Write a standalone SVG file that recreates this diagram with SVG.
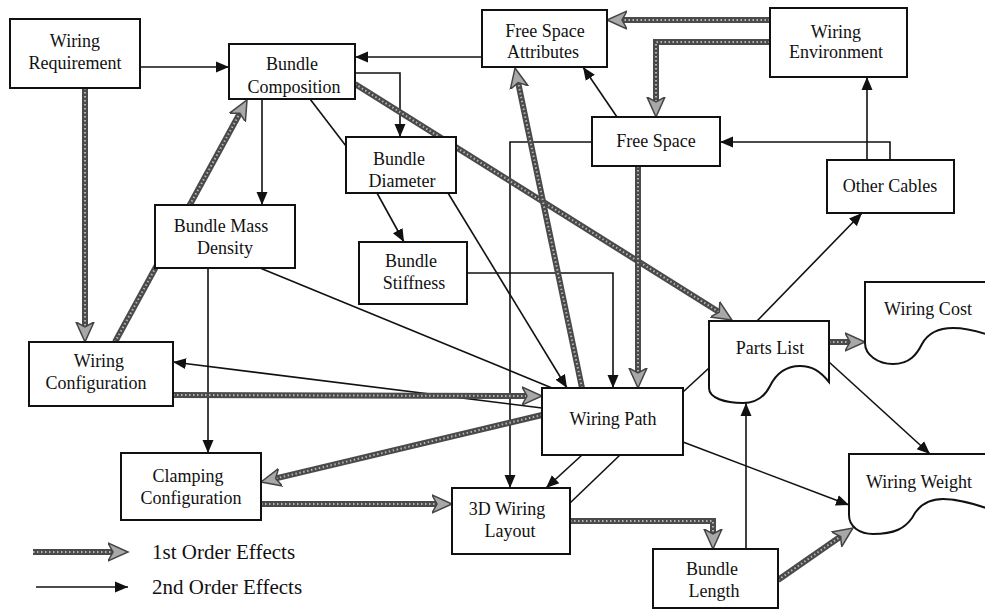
<svg xmlns="http://www.w3.org/2000/svg" width="985" height="610" viewBox="0 0 985 610">
<style>
.box{fill:#fff;stroke:#111;stroke-width:2}
.lbl{font-family:"Liberation Serif","Times New Roman",serif;font-size:18px;fill:#111;text-anchor:middle}
.leg{font-family:"Liberation Serif","Times New Roman",serif;font-size:21px;fill:#111}
.c2{fill:none;stroke:#111;stroke-width:1.6}
.c1{fill:none;stroke:#4a4a4a;stroke-width:6}
.c1d{fill:none;stroke:#b5b5b5;stroke-width:2;stroke-dasharray:1.5 2.5}
</style>
<defs>
<marker id="a2" markerUnits="userSpaceOnUse" markerWidth="14" markerHeight="12" refX="13" refY="6" orient="auto"><path d="M0,0.5 L13,6 L0,11.5 z" fill="#111"/></marker>
<marker id="a1" markerUnits="userSpaceOnUse" markerWidth="22" markerHeight="20" refX="8" refY="10" orient="auto"><path d="M0,1 L20,10 L0,19 L5,10 z" fill="#a8a8a8" stroke="#444" stroke-width="1.5"/></marker>
</defs>
<rect width="985" height="610" fill="#fff"/>
<g id="connectors">
<!-- 2nd order -->
<path class="c2" d="M140,67 H229" marker-end="url(#a2)"/>
<path class="c2" d="M482,57 H355" marker-end="url(#a2)"/>
<path class="c2" d="M355,73 H400 V137" marker-end="url(#a2)"/>
<path class="c2" d="M262,99 V205" marker-end="url(#a2)"/>
<path class="c2" d="M310,99 L346,146"/>
<path class="c2" d="M377,193 L404,242" marker-end="url(#a2)"/>
<path class="c2" d="M448,193 L567,388" marker-end="url(#a2)"/>
<path class="c2" d="M467,273 H613 V388" marker-end="url(#a2)"/>
<path class="c2" d="M260,268 L552,388"/>
<path class="c2" d="M208,268 V453" marker-end="url(#a2)"/>
<path class="c2" d="M542,408 L173,362" marker-end="url(#a2)"/>
<path class="c2" d="M617,117 L583,67" marker-end="url(#a2)"/>
<path class="c2" d="M867,160 V77" marker-end="url(#a2)"/>
<path class="c2" d="M890,160 V142 H720" marker-end="url(#a2)"/>
<path class="c2" d="M592,142 H510 V488" marker-end="url(#a2)"/>
<path class="c2" d="M582,455 L546,488" marker-end="url(#a2)"/>
<path class="c2" d="M570,503 L620,455"/>
<path class="c2" d="M683,392 L709,368"/>
<path class="c2" d="M683,442 L849,505" marker-end="url(#a2)"/>
<path class="c2" d="M829,362 L930,454" marker-end="url(#a2)"/>
<path class="c2" d="M746,549 V403" marker-end="url(#a2)"/>
<path class="c2" d="M757,321 L862,213" marker-end="url(#a2)"/>
<!-- 1st order -->
<path class="c1" d="M85,88 V330"/><path class="c1d" d="M85,88 V330" marker-end="url(#a1)"/>
<path class="c1" d="M115,342 L241.3,110.5"/><path class="c1d" d="M115,342 L241.3,110.5" marker-end="url(#a1)"/>
<path class="c1" d="M355,84 L721.8,313.7"/><path class="c1d" d="M355,84 L721.8,313.7" marker-end="url(#a1)"/>
<path class="c1" d="M582,388 L517.5,79.7"/><path class="c1d" d="M582,388 L517.5,79.7" marker-end="url(#a1)"/>
<path class="c1" d="M770,20 H619"/><path class="c1d" d="M770,20 H619" marker-end="url(#a1)"/>
<path class="c1" d="M770,42 H656 V105"/><path class="c1d" d="M770,42 H656 V105" marker-end="url(#a1)"/>
<path class="c1" d="M638,166 V376"/><path class="c1d" d="M638,166 V376" marker-end="url(#a1)"/>
<path class="c1" d="M173,395 L530,396"/><path class="c1d" d="M173,395 L530,396" marker-end="url(#a1)"/>
<path class="c1" d="M542,415 L272.7,479.2"/><path class="c1d" d="M542,415 L272.7,479.2" marker-end="url(#a1)"/>
<path class="c1" d="M261,504 H440"/><path class="c1d" d="M261,504 H440" marker-end="url(#a1)"/>
<path class="c1" d="M570,521 H713 V537"/><path class="c1d" d="M570,521 H713 V537" marker-end="url(#a1)"/>
<path class="c1" d="M778,580 L843.1,534.8"/><path class="c1d" d="M778,580 L843.1,534.8" marker-end="url(#a1)"/>
<path class="c1" d="M829,342 H853"/><path class="c1d" d="M829,342 H853" marker-end="url(#a1)"/>
</g>
<g id="wiring-requirement"><rect class="box" x="10" y="19" width="130" height="69"/><text class="lbl" x="75" y="47">Wiring</text><text class="lbl" x="75" y="69">Requirement</text></g>
<g id="bundle-composition"><rect class="box" x="229" y="44" width="126" height="55"/><text class="lbl" x="292" y="70">Bundle</text><text class="lbl" x="294" y="93">Composition</text></g>
<g id="free-space-attributes"><rect class="box" x="482" y="10" width="125" height="57"/><text class="lbl" x="545" y="37">Free Space</text><text class="lbl" x="543" y="58">Attributes</text></g>
<g id="wiring-environment"><rect class="box" x="770" y="8" width="137" height="69"/><text class="lbl" x="836" y="38">Wiring</text><text class="lbl" x="836" y="58">Environment</text></g>
<g id="free-space"><rect class="box" x="592" y="117" width="128" height="49"/><text class="lbl" x="656" y="147">Free Space</text></g>
<g id="other-cables"><rect class="box" x="827" y="160" width="127" height="53"/><text class="lbl" x="890" y="192">Other Cables</text></g>
<g id="bundle-diameter"><rect class="box" x="346" y="137" width="110" height="56"/><text class="lbl" x="399" y="165">Bundle</text><text class="lbl" x="402" y="187">Diameter</text></g>
<g id="bundle-mass-density"><rect class="box" x="155" y="205" width="140" height="63"/><text class="lbl" x="221" y="232">Bundle Mass</text><text class="lbl" x="225" y="254">Density</text></g>
<g id="bundle-stiffness"><rect class="box" x="359" y="242" width="108" height="62"/><text class="lbl" x="411" y="267">Bundle</text><text class="lbl" x="414" y="289">Stiffness</text></g>
<g id="wiring-configuration"><rect class="box" x="29" y="342" width="144" height="64"/><text class="lbl" x="99" y="367">Wiring</text><text class="lbl" x="96" y="389">Configuration</text></g>
<g id="wiring-path"><rect class="box" x="542" y="388" width="141" height="67"/><text class="lbl" x="613" y="425">Wiring Path</text></g>
<g id="parts-list"><path class="box" d="M709,321 H829 V382 C820,371 812,366 800,366 C786,366 776,374 770,386 C765,396 757,403 743,403 C725,403 709,398 709,388 Z"/><text class="lbl" x="770" y="354">Parts List</text></g>
<g id="wiring-cost"><path class="box" d="M992,282 H865 V343 C865,355 878,364 893,364 C910,364 917,354 922,344 C928,333 940,328 953,328 C965,328 975,330 992,336 Z"/><text class="lbl" x="928" y="315">Wiring Cost</text></g>
<g id="wiring-weight"><path class="box" d="M992,454 H849 V515 C849,527 860,534 873,534 C895,534 905,528 912,518 C918,506 928,499 943,499 C958,499 972,503 992,510 Z"/><text class="lbl" x="919" y="488">Wiring Weight</text></g>
<g id="clamping-configuration"><rect class="box" x="121" y="453" width="140" height="67"/><text class="lbl" x="188" y="482">Clamping</text><text class="lbl" x="191" y="504">Configuration</text></g>
<g id="wiring-layout-3d"><rect class="box" x="452" y="488" width="118" height="66"/><text class="lbl" x="507" y="515">3D Wiring</text><text class="lbl" x="510" y="537">Layout</text></g>
<g id="bundle-length"><rect class="box" x="653" y="549" width="125" height="59"/><text class="lbl" x="712" y="575">Bundle</text><text class="lbl" x="714" y="597">Length</text></g>
<g id="legend">
<path class="c1" d="M33,552 H116"/><path class="c1d" d="M33,552 H116" marker-end="url(#a1)"/>
<text class="leg" x="152" y="559">1st  Order Effects</text>
<path class="c2" d="M36,587 H128" marker-end="url(#a2)"/>
<text class="leg" x="152" y="594">2nd Order Effects</text>
</g>
</svg>
